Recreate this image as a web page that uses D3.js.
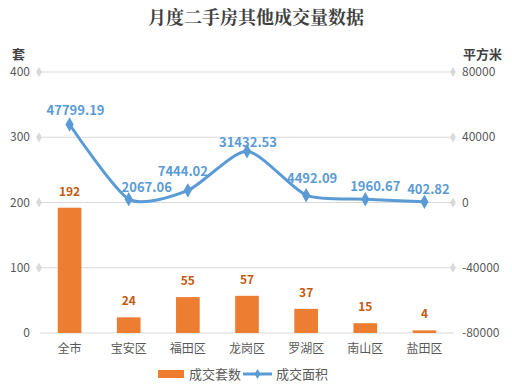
<!DOCTYPE html>
<html>
<head>
<meta charset="utf-8">
<script src="https://cdn.jsdelivr.net/npm/d3@7"></script>
<style>
  body { margin: 0; background: #fff; }
  text { font-family: "Noto Sans CJK SC", "Microsoft YaHei", sans-serif; }
</style>
</head>
<body>
<svg id="chart" width="512" height="388"></svg>
<script>
var districts = ["全市", "宝安区", "福田区", "龙岗区", "罗湖区", "南山区", "盐田区"];
var units = [192, 24, 55, 57, 37, 15, 4];
var areas = [47799.19, 2067.06, 7444.02, 31432.53, 4492.09, 1960.67, 402.82];
var leftTicks = [0, 100, 200, 300, 400];
var rightTicks = [-80000, -40000, 0, 40000, 80000];
// where excel put the area labels, relative to the point
var areaLabelDx = [6, 18, -5, 1, 6, 10, 4];
var areaLabelDy = [-14, -12, -19, -9, -17, -13, -12];

var svg = d3.select("#chart");
var plotLeft = 40, plotRight = 454, plotTop = 72, plotBottom = 333;

var x = d3.scaleBand().domain(districts).range([plotLeft, plotRight]).paddingInner(0.6).paddingOuter(0.3);
var yL = d3.scaleLinear().domain([0, 400]).range([plotBottom, plotTop]);
var yR = d3.scaleLinear().domain([-80000, 80000]).range([plotBottom, plotTop]);
function cx(i){ return x(districts[i]) + x.bandwidth() / 2; }

// title
svg.append("text")
    .attr("x", 256).attr("y", 24)
    .attr("text-anchor", "middle")
    .style("font-size", "18px").style("font-weight", "bold")
    .style("font-family", "'Noto Serif CJK SC', 'Noto Sans CJK SC', serif")
    .attr("fill", "#404040")
    .text("月度二手房其他成交量数据");

svg.append("text").attr("x", 12).attr("y", 59)
    .style("font-size", "13px").style("font-weight", "bold").attr("fill", "#404040").text("套");
svg.append("text").attr("x", 502).attr("y", 59).attr("text-anchor", "end")
    .style("font-size", "13px").style("font-weight", "bold").attr("fill", "#404040").text("平方米");

// grid lines
svg.selectAll(".grid").data(leftTicks).enter().append("line")
    .attr("x1", plotLeft).attr("x2", plotRight)
    .attr("y1", function(d){ return yL(d); }).attr("y2", function(d){ return yL(d); })
    .attr("stroke", "#d9d9d9").attr("stroke-width", 1);

// diamond markers on axes (except bottom)
var diamond = d3.symbol().type(d3.symbolDiamond).size(30);
leftTicks.filter(function(d){ return d > 0; }).forEach(function(d){
    svg.append("path").attr("d", diamond).attr("transform", "translate(" + (plotLeft - 1) + "," + yL(d) + ")").attr("fill", "#d9d9d9");
});
rightTicks.filter(function(d){ return d > -80000; }).forEach(function(d){
    svg.append("path").attr("d", diamond).attr("transform", "translate(" + (plotRight - 1) + "," + yR(d) + ")").attr("fill", "#d9d9d9");
});

// axis labels
svg.selectAll(".lt").data(leftTicks).enter().append("text")
    .attr("x", 30).attr("y", function(d){ return yL(d) + 4; })
    .attr("text-anchor", "end").style("font-size", "12px").attr("fill", "#595959")
    .text(function(d){ return d; });
svg.selectAll(".rt").data(rightTicks).enter().append("text")
    .attr("x", 462).attr("y", function(d){ return yR(d) + 4; })
    .style("font-size", "12px").attr("fill", "#595959")
    .text(function(d){ return d; });

svg.selectAll(".cat").data(districts).enter().append("text")
    .attr("x", function(d, i){ return cx(i); }).attr("y", 353)
    .attr("text-anchor", "middle").style("font-size", "12px").attr("fill", "#595959")
    .text(function(d){ return d; });

// bars
svg.selectAll(".bar").data(units).enter().append("rect")
    .attr("x", function(d, i){ return x(districts[i]); })
    .attr("y", function(d){ return yL(d); })
    .attr("width", x.bandwidth())
    .attr("height", function(d){ return plotBottom - yL(d); })
    .attr("fill", "#ED7D31");
svg.selectAll(".bl").data(units).enter().append("text")
    .attr("x", function(d, i){ return cx(i); })
    .attr("y", function(d){ return yL(d) - 12; })
    .attr("text-anchor", "middle").style("font-size", "12px").style("font-weight", "bold")
    .attr("fill", "#C55A11")
    .text(function(d){ return d; });

// line
var line = d3.line()
    .x(function(d, i){ return cx(i); })
    .y(function(d){ return yR(d); })
    .curve(d3.curveCardinal.tension(0.3));
svg.append("path").datum(areas).attr("d", line)
    .attr("fill", "none").attr("stroke", "#5B9BD5").attr("stroke-width", 3);
var pt = d3.symbol().type(d3.symbolDiamond).size(60);
svg.selectAll(".pt").data(areas).enter().append("path")
    .attr("d", pt)
    .attr("transform", function(d, i){ return "translate(" + cx(i) + "," + yR(d) + ")"; })
    .attr("fill", "#5B9BD5");
svg.selectAll(".al").data(areas).enter().append("text")
    .attr("x", function(d, i){ return cx(i) + areaLabelDx[i]; })
    .attr("y", function(d, i){ return yR(d) + areaLabelDy[i] + 4.5; })
    .attr("text-anchor", "middle").style("font-size", "13px").style("font-weight", "bold")
    .attr("fill", "#5B9BD5")
    .text(function(d){ return d.toFixed(2); });

// legend
svg.append("rect").attr("x", 158).attr("y", 370).attr("width", 26).attr("height", 8).attr("fill", "#ED7D31");
svg.append("text").attr("x", 189).attr("y", 379).style("font-size", "13px").attr("fill", "#595959").text("成交套数");
svg.append("line").attr("x1", 243).attr("x2", 272).attr("y1", 374).attr("y2", 374).attr("stroke", "#5B9BD5").attr("stroke-width", 3);
svg.append("path").attr("d", d3.symbol().type(d3.symbolDiamond).size(30)).attr("transform", "translate(257.5,374)").attr("fill", "#5B9BD5");
svg.append("text").attr("x", 276).attr("y", 379).style("font-size", "13px").attr("fill", "#595959").text("成交面积");
</script>
</body>
</html>
